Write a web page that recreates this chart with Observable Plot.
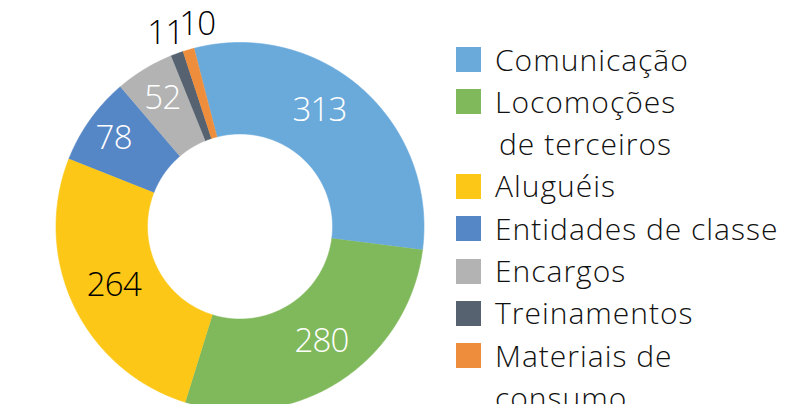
<!DOCTYPE html>
<html>
<head>
<meta charset="utf-8">
<script src="https://cdn.jsdelivr.net/npm/d3@7"></script>
<script src="https://cdn.jsdelivr.net/npm/@observablehq/plot@0.6"></script>
<style>
  html, body { margin: 0; padding: 0; background: #fff; }
  #wrap { position: relative; width: 785px; height: 404px; overflow: hidden; font-family: "Open Sans", sans-serif; font-weight: 300; }
  #chart { position: absolute; left: 0; top: 0; }
  #legend { position: absolute; left: 456px; top: 38.5px; font-size: 30px; letter-spacing: 1px; line-height: 42.3px; color: #111; }
  .item { display: flex; align-items: flex-start; }
  .sw { width: 25px; height: 25px; margin-top: 8.6px; margin-right: 14px; flex: none; }
  .lab { white-space: pre; }
</style>
</head>
<body>
<div id="wrap"><div id="chart"></div><div id="legend"></div></div>
<script>
// Data
const categories = ["Comunicação", "Locomoções\n\u200Ade terceiros", "Aluguéis", "Entidades de classe", "Encargos", "Treinamentos", "Materiais de\nconsumo"];
const values = [313, 280, 264, 78, 52, 11, 10];
const colors = ["#6AAADB", "#80B95B", "#FCC716", "#5586C6", "#B3B3B3", "#56626F", "#EE8E3C"];

// Layout
const W = 785, H = 404;
const cx = 239.5, cy = 226, R = 184;
const innerRatio = 0.503;
const startDeg = -14.5;

// label nudges (pixels) per slice index, to follow the reference placement
const nudge = [[-13, -11], [6, -2.5], [0, -1], [-12.5, -6.5], [-5, -9], [-4, 1], [15, -4]];

const total = d3.sum(values);
const slices = [];
let acc = 0;
values.forEach((v, i) => {
  const a0 = startDeg + acc / total * 360;
  acc += v;
  const a1 = startDeg + acc / total * 360;
  slices.push({cat: categories[i], value: v, a0, a1, mid: (a0 + a1) / 2, i});
});

const rad = d => d * Math.PI / 180;
const pts = [];
for (const s of slices) {
  const n = Math.max(2, Math.ceil((s.a1 - s.a0) / 0.5) + 1);
  for (let k = 0; k < n; k++) {
    const a = rad(s.a0 + (s.a1 - s.a0) * k / (n - 1));
    pts.push({cat: s.cat, x: Math.sin(a), y: Math.cos(a)});
  }
  for (let k = n - 1; k >= 0; k--) {
    const a = rad(s.a0 + (s.a1 - s.a0) * k / (n - 1));
    pts.push({cat: s.cat, x: innerRatio * Math.sin(a), y: innerRatio * Math.cos(a)});
  }
}

const labR = 0.76, outR = 1.12;
const labels = slices.map(s => {
  const r = s.value >= 20 ? labR : outR;
  return {
    ...s,
    x: r * Math.sin(rad(s.mid)),
    y: r * Math.cos(rad(s.mid)),
    color: (s.value < 20 || s.cat === "Aluguéis") ? "#000" : "#fff"
  };
});

const plot = Plot.plot({
  width: W, height: H,
  margin: 0,
  x: {domain: [-cx / R, (W - cx) / R], axis: null},
  y: {domain: [-(H - cy) / R, cy / R], axis: null},
  color: {domain: categories, range: colors},
  style: {fontFamily: "'Open Sans', sans-serif", fontWeight: 300},
  marks: [
    Plot.line(pts, {x: "x", y: "y", z: "cat", fill: "cat", stroke: "cat", strokeWidth: 0.6, curve: "linear"}),
    ...labels.map(d => Plot.text([d], {
      x: "x", y: "y", text: d => String(d.value), fill: "color",
      fontSize: 33, fontWeight: 300, dx: nudge[d.i][0], dy: nudge[d.i][1]
    }))
  ]
});
plot.querySelectorAll("text").forEach(t => t.setAttribute("letter-spacing", "-0.8"));
document.getElementById("chart").appendChild(plot);

const legend = document.getElementById("legend");
categories.forEach((c, i) => {
  const item = document.createElement("div");
  item.className = "item";
  const sw = document.createElement("div");
  sw.className = "sw";
  sw.style.background = colors[i];
  const lab = document.createElement("div");
  lab.className = "lab";
  lab.textContent = c;
  item.appendChild(sw);
  item.appendChild(lab);
  legend.appendChild(item);
});
</script>
</body>
</html>
